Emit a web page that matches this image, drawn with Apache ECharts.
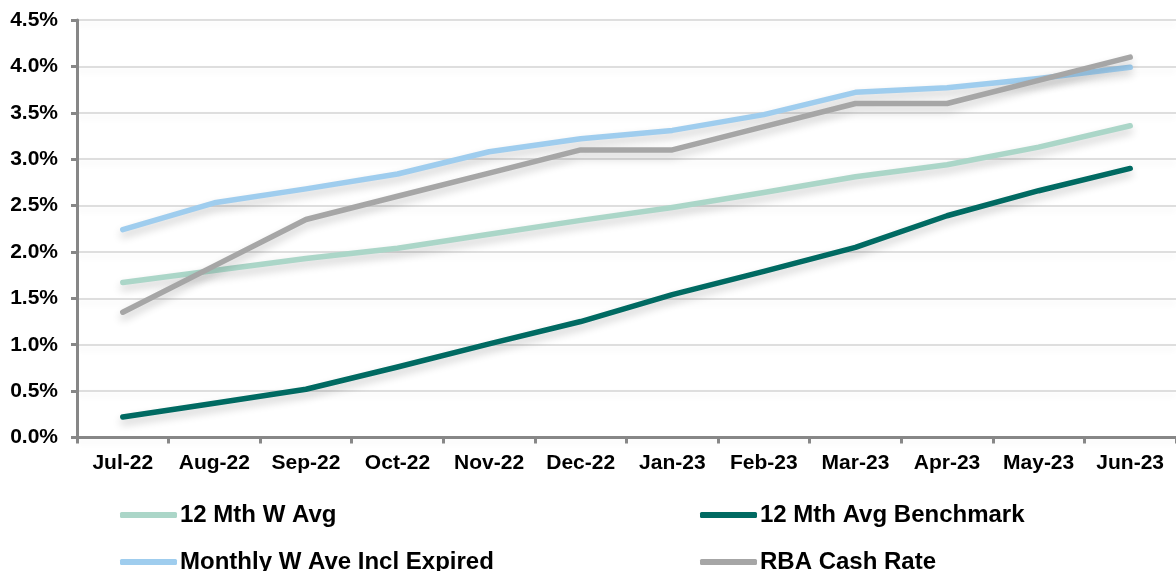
<!DOCTYPE html>
<html>
<head>
<meta charset="utf-8">
<script src="https://cdn.jsdelivr.net/npm/echarts@6/dist/echarts.min.js"></script>
<style>
  html, body { margin: 0; padding: 0; background: #fff; }
  #chart { width: 1176px; height: 571px; }
</style>
</head>
<body>
<div id="chart"></div>
<script>
// Monthly categories
const months = ['Jul-22', 'Aug-22', 'Sep-22', 'Oct-22', 'Nov-22', 'Dec-22',
                'Jan-23', 'Feb-23', 'Mar-23', 'Apr-23', 'May-23', 'Jun-23'];

// Rates in percent
const avg12Weighted = [1.67, 1.80, 1.93, 2.04, 2.19, 2.34, 2.48, 2.64, 2.81, 2.94, 3.13, 3.36];
const avg12Benchmark = [0.22, 0.37, 0.52, 0.76, 1.01, 1.25, 1.54, 1.79, 2.05, 2.39, 2.66, 2.90];
const monthlyInclExpired = [2.24, 2.53, 2.68, 2.84, 3.08, 3.22, 3.31, 3.48, 3.72, 3.77, 3.87, 3.99];
const rbaCashRate = [1.35, 1.85, 2.35, 2.60, 2.85, 3.10, 3.10, 3.35, 3.60, 3.60, 3.85, 4.10];

// Y axis ticks
const yMin = 0, yMax = 4.5, yStep = 0.5;

const seriesDefs = [
  { name: '12 Mth W Avg', data: avg12Weighted, color: '#abd6c8' },
  { name: '12 Mth Avg Benchmark', data: avg12Benchmark, color: '#006a62' },
  { name: 'Monthly W Ave Incl Expired', data: monthlyInclExpired, color: '#9fcdee' },
  { name: 'RBA Cash Rate', data: rbaCashRate, color: '#a6a6a6' }
];

const font = 'Liberation Sans, Arial, sans-serif';

// Two-column legend, one component per entry
const legendPos = [
  { left: 120, top: 503 },
  { left: 700, top: 503 },
  { left: 120, top: 550 },
  { left: 700, top: 550 }
];

const chart = echarts.init(document.getElementById('chart'));
chart.setOption({
  animation: false,
  backgroundColor: '#ffffff',
  grid: { left: 77, top: 20, width: 1100, height: 417.5, containLabel: false },
  legend: seriesDefs.map((s, i) => ({
    data: [s.name],
    left: legendPos[i].left,
    top: legendPos[i].top,
    padding: 0,
    icon: 'roundRect',
    itemWidth: 57,
    itemHeight: 6,
    itemGap: 0,
    textStyle: { fontFamily: font, fontWeight: 'bold', fontSize: 24, color: '#000', padding: [0, 0, 0, -2], lineHeight: 24 },
    selectedMode: false
  })),
  xAxis: {
    type: 'category',
    data: months,
    boundaryGap: true,
    axisLine: { lineStyle: { color: '#878787', width: 3 } },
    axisTick: { show: true, interval: 0, length: 6, lineStyle: { color: '#878787', width: 3 } },
    axisLabel: { interval: 0, hideOverlap: false, color: '#000', fontFamily: font, fontWeight: 'bold', fontSize: 21, margin: 15 },
    splitLine: { show: false }
  },
  yAxis: {
    type: 'value',
    min: yMin,
    max: yMax,
    interval: yStep,
    axisLine: { show: true, lineStyle: { color: '#878787', width: 3 } },
    axisTick: { show: true, length: 6, lineStyle: { color: '#878787', width: 3 } },
    axisLabel: {
      color: '#000', fontFamily: font, fontWeight: 'bold', fontSize: 21, margin: 19,
      formatter: v => v.toFixed(1) + '%'
    },
    splitLine: {
      show: true,
      lineStyle: { color: '#d3d3d3', width: 1.5, shadowColor: 'rgba(0,0,0,0.08)', shadowBlur: 6, shadowOffsetY: 4 }
    }
  },
  series: seriesDefs.map(s => ({
    name: s.name,
    type: 'line',
    data: s.data,
    showSymbol: false,
    symbol: 'none',
    color: s.color,
    lineStyle: {
      color: s.color, width: 5.5, cap: 'round', join: 'round',
      shadowColor: 'rgba(0,0,0,0.2)', shadowBlur: 8, shadowOffsetY: 5
    },
    emphasis: { disabled: true }
  }))
});
</script>
</body>
</html>
